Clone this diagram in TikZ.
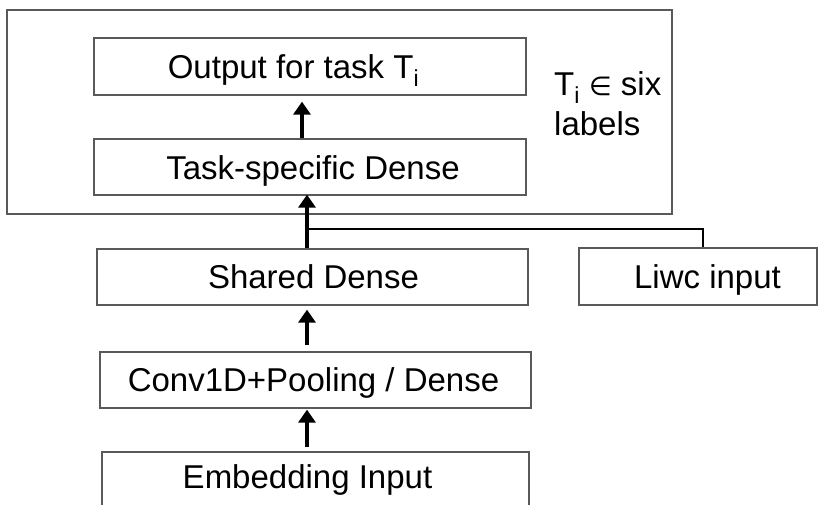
\documentclass[tikz,border=0pt]{standalone}
\usepackage{fontspec}
\setmainfont{Liberation Sans}
\newfontfamily\symfont{DejaVu Sans}
\usetikzlibrary{arrows.meta}
\begin{document}
\begin{tikzpicture}[x=1pt,y=-1pt,
  layer/.style={draw=black!65,line width=1.3pt,inner sep=0pt,minimum height=56pt},
  txt/.style={font=\fontsize{33}{38}\selectfont,anchor=base,inner sep=0pt},
  arr/.style={line width=4pt,-{Triangle[width=17pt,length=13pt]}},
  feed/.style={line width=2.6pt}]
\useasboundingbox (0,0) rectangle (825,504);
\clip (0,0) rectangle (825,504);
% task-specific group
\node[draw=black!65,line width=1.3pt,minimum width=665pt,minimum height=204pt,inner sep=0pt] (group) at (339.5,112) {};
\node[layer,minimum width=432pt,minimum height=57pt] (out) at (310,66.5) {};
\node[layer,minimum width=432pt] (task) at (310,167) {};
\node[txt] (outtxt) at (293.5,78) {Output for task T\textsubscript{i}};
\node[txt] (tasktxt) at (313,179) {Task-specific Dense};
\node[txt,anchor=base west] (lbl1) at (554,95) {T\textsubscript{i} {\symfont\fontsize{26}{30}\selectfont ∈} six};
\node[txt,anchor=base west] (lbl2) at (554,135) {labels};
% shared layers
\node[layer,minimum width=431pt] (shared) at (312.5,277) {};
\node[layer,minimum width=238pt,minimum height=57pt] (liwc) at (698,276.5) {};
\node[layer,minimum width=431pt] (conv) at (315.5,380) {};
\node[layer,minimum width=427pt,minimum height=58pt] (emb) at (315.5,481) {};
\node[txt] (sharedtxt) at (313.5,288.5) {Shared Dense};
\node[txt] (liwctxt) at (707.5,288.5) {Liwc input};
\node[txt] (convtxt) at (313.5,391.5) {Conv1D+Pooling / Dense};
\node[txt] (embtxt) at (307.5,488) {Embedding Input};
% connectors
\coordinate (ax) at (307,0);
\coordinate (bx) at (302,0);
\coordinate (lx) at (703,0);
\coordinate (jn) at (307,229);
\draw[arr] ([yshift=4pt]emb.north -| ax) -- ([yshift=-1pt]conv.south -| ax);
\draw[arr] ([yshift=6pt]conv.north -| ax) -- ([yshift=-4pt]shared.south -| ax);
\draw[arr] (shared.north -| ax) -- ([yshift=1pt]task.south -| ax);
\draw[feed] (liwc.north -| lx) |- (jn);
\draw[arr] (task.north -| bx) -- ([yshift=-6pt]out.south -| bx);
\end{tikzpicture}
\end{document}
